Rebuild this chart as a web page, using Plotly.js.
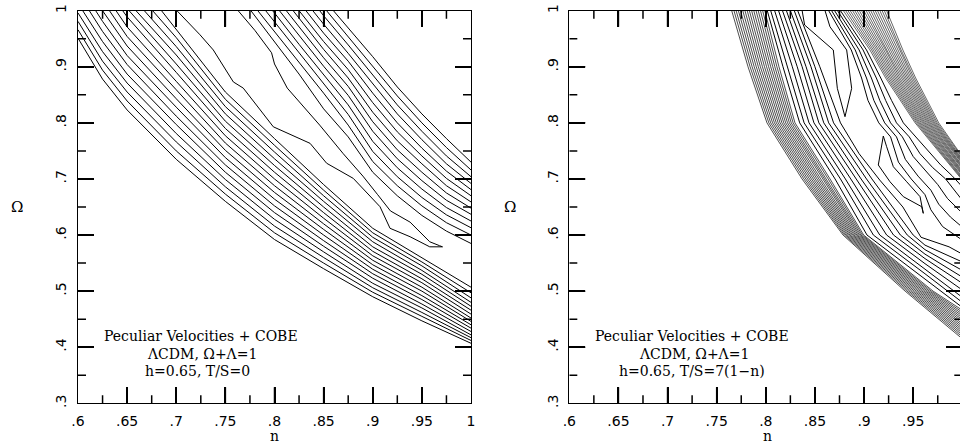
<!DOCTYPE html>
<html>
<head>
<meta charset="utf-8">
<script src="https://cdn.plot.ly/plotly-3.0.1.min.js"></script>
<style>
html,body{margin:0;padding:0;overflow:hidden;background:#fff;}
#chart{width:964px;height:443px;}
</style>
</head>
<body>
<div id="chart"></div>
<script>
// ---------------- tick labels ----------------
const xTickVals = [0.6,0.65,0.7,0.75,0.8,0.85,0.9,0.95,1.0];
const xTickText = ['.6','.65','.7','.75','.8','.85','.9','.95','1'];
const xMinorVals = [0.625,0.675,0.725,0.775,0.825,0.875,0.925,0.975];
const yTickVals = [0.3,0.4,0.5,0.6,0.7,0.8,0.9,1.0];
const yTickText = ['.3','.4','.5','.6','.7','.8','.9','1'];
const yMinorVals = [0.35,0.45,0.55,0.65,0.75,0.85,0.95];

// ---------------- LEFT PANEL (T/S = 0) ----------------
const L_A_startN  = [0.6,0.6,0.6,0.6,0.6048,0.6115,0.618,0.625,0.632,0.6387,0.6455,0.652,0.659,0.6675,0.676,0.685];
const L_A_startOm = [0.951,0.966,0.981,0.996,1,1,1,1,1,1,1,1,1,1,1,1];
const L_A_gridN   = [0.625,0.65,0.70,0.75,0.80,0.85,0.90,0.95,1.0];
const L_A_cols = [
  [0.878,0.894,0.91,0.927,0.945,0.963,0.981,null,null,null,null,null,null,null,null,null],
  [0.823,0.839,0.855,0.871,0.887,0.904,0.92,0.937,0.954,0.971,0.989,null,null,null,null,null],
  [0.735,0.75,0.766,0.781,0.797,0.812,0.828,0.843,0.859,0.874,0.89,0.905,0.921,0.936,0.952,0.967],
  [0.66,0.673,0.686,0.699,0.712,0.725,0.738,0.751,0.764,0.777,0.79,0.803,0.816,0.829,0.842,0.855],
  [0.592,0.604,0.616,0.628,0.64,0.652,0.664,0.676,0.688,0.7,0.712,0.724,0.736,0.748,0.76,0.772],
  [0.54,0.55,0.56,0.57,0.58,0.59,0.60,0.61,0.62,0.63,0.64,0.65,0.66,0.67,0.68,0.69],
  [0.49,0.498,0.506,0.514,0.523,0.531,0.539,0.547,0.555,0.563,0.571,0.579,0.588,0.596,0.604,0.612],
  [0.447,0.455,0.462,0.47,0.477,0.485,0.492,0.5,0.507,0.515,0.522,0.53,0.537,0.545,0.552,0.56],
  [0.407,0.412,0.417,0.422,0.428,0.434,0.44,0.446,0.452,0.459,0.466,0.473,0.48,0.488,0.497,0.507]
];
const L_T_n  = [0.7007,0.7242,0.7377,0.7581,0.7682,0.7988,0.8362,0.8531,0.8802,0.9074,0.9176,0.938,0.958,0.971,0.968,0.958,0.938,0.918,0.905,0.89,0.87,0.846,0.813,0.80,0.797,0.78,0.763];
const L_T_om = [1.0,0.957,0.93,0.873,0.862,0.793,0.7635,0.728,0.701,0.6505,0.612,0.597,0.579,0.579,0.581,0.588,0.623,0.643,0.672,0.705,0.745,0.796,0.862,0.905,0.925,0.965,1.0];
const L_B_startN = [0.776,0.783,0.791,0.798,0.805,0.812,0.819,0.825,0.832,0.839,0.846,0.853,0.86];
const L_B_gridN  = [0.80,0.825,0.85,0.875,0.90,0.925,0.95,0.975,1.0];
const L_B_cols = [
  [0.945,0.963,0.98,0.996,null,null,null,null,null,null,null,null,null],
  [0.887,0.908,0.925,0.94,0.956,0.971,0.987,null,null,null,null,null,null],
  [0.825,0.853,0.87,0.886,0.901,0.916,0.931,0.945,0.96,0.976,0.991,null,null],
  [0.775,0.796,0.815,0.832,0.849,0.865,0.88,0.895,0.91,0.924,0.939,0.954,0.969],
  [0.712,0.731,0.749,0.767,0.785,0.802,0.819,0.836,0.853,0.87,0.886,0.902,0.918],
  [0.67,0.688,0.704,0.72,0.736,0.752,0.768,0.784,0.8,0.816,0.832,0.848,0.864],
  [0.635,0.652,0.667,0.682,0.697,0.712,0.727,0.741,0.755,0.77,0.785,0.8,0.816],
  [0.607,0.622,0.636,0.649,0.662,0.675,0.688,0.701,0.714,0.727,0.741,0.756,0.772],
  [0.585,0.6,0.613,0.625,0.637,0.648,0.659,0.67,0.681,0.692,0.704,0.716,0.73]
];

// ---------------- RIGHT PANEL (T/S = 7(1-n)) ----------------
const R_A_levels = [1.0,0.9,0.8,0.7,0.6,0.5];
const R_A_rows = [
  [0.7653,0.7676,0.7698,0.7721,0.7743,0.7766,0.7788,0.7811,0.7833,0.7856,0.7878,0.7901,0.7923,0.7946,0.7968,0.799],
  [0.7819,0.784,0.7861,0.7882,0.7903,0.7924,0.7945,0.7966,0.7987,0.8008,0.8029,0.805,0.8071,0.8092,0.8113,0.8134],
  [0.8012,0.8031,0.805,0.8069,0.8088,0.8107,0.8126,0.8145,0.8164,0.8183,0.8202,0.8221,0.824,0.8259,0.8278,0.8297],
  [0.8369,0.8388,0.8407,0.8426,0.8445,0.8464,0.8483,0.8502,0.8521,0.854,0.8559,0.8578,0.8597,0.8616,0.8635,0.8654],
  [0.8786,0.88,0.8814,0.8828,0.8842,0.8856,0.887,0.8884,0.8898,0.8912,0.8926,0.894,0.8954,0.8968,0.8982,0.8996],
  [0.9418,0.9437,0.9456,0.9475,0.9494,0.9513,0.9532,0.9551,0.957,0.9589,0.9608,0.9627,0.9646,0.9665,0.9684,0.9703]
];
const R_A_endOm = [0.415,0.4184,0.4218,0.4252,0.4286,0.432,0.4354,0.4388,0.4422,0.4456,0.449,0.4524,0.4558,0.4592,0.4626,0.466];
const R_S_levels = [1.0,0.9,0.8,0.7,0.6];
const R_S_rows = [
  [0.8015,0.805,0.809,0.813,0.817,0.821,0.825,0.829],
  [0.8175,0.822,0.827,0.832,0.837,0.841,0.846,0.85],
  [0.8345,0.839,0.844,0.849,0.854,0.859,0.864,0.869],
  [0.8705,0.876,0.881,0.8865,0.892,0.897,0.9025,0.908],
  [0.903,0.9095,0.916,0.923,0.93,0.937,0.944,0.95]
];
const R_S_kneeN  = [0.962,0.962,0.962,0.962,0.962,0.962,0.962,0.962];
const R_S_kneeOm = [0.522,0.531,0.54,0.549,0.558,0.566,0.574,0.582];
const R_S_endOm  = [0.471,0.48,0.489,0.502,0.514,0.525,0.537,0.552];
const R_K_n  = [0.8325,0.855,0.876,0.895,0.916,0.9395,0.958,0.9865,1.0];
const R_K_om = [1.0,0.9,0.8,0.745,0.698,0.65,0.596,0.579,0.566];
const R_T1_n  = [0.837,0.8395,0.8687,0.8728,0.8806,0.8874,0.8823,0.8653,0.8603];
const R_T1_om = [1.0,0.9745,0.93,0.8616,0.811,0.8616,0.93,0.9714,1.0];
const R_T2_n  = [0.9196,0.9145,0.9264,0.94,0.9587,0.9603,0.957,0.9434,0.9298,0.923,0.9196];
const R_T2_om = [0.7766,0.7249,0.695,0.6684,0.6505,0.6387,0.6684,0.695,0.7218,0.7575,0.7766];
const R_Bs_n = [
  [0.864,0.887,0.8975,0.904,0.915,0.927,0.935,0.948,0.962,0.968,0.98,1.0],
  [0.867,0.891,0.9025,0.91,0.921,0.933,0.942,0.955,0.968,0.976,0.988,1.0],
  [0.870,0.895,0.9075,0.916,0.927,0.939,0.95,0.962,0.975,0.985,1.0],
  [0.873,0.899,0.9125,0.922,0.933,0.946,0.957,0.97,0.983,1.0],
  [0.876,0.9025,0.917,0.928,0.94,0.953,0.965,0.978,0.99,1.0]
];
const R_Bs_om = [
  [1.0,0.93,0.88,0.84,0.80,0.775,0.73,0.70,0.672,0.645,0.615,0.591],
  [1.0,0.93,0.88,0.84,0.80,0.775,0.735,0.705,0.68,0.655,0.632,0.614],
  [1.0,0.93,0.88,0.84,0.80,0.775,0.74,0.715,0.69,0.665,0.639],
  [1.0,0.93,0.88,0.84,0.80,0.775,0.745,0.72,0.70,0.662],
  [1.0,0.93,0.88,0.84,0.80,0.775,0.75,0.725,0.705,0.686]
];
const R_Bd_levels = [1.0,0.93,0.88,0.80];
const R_Bd_rows = [
  [0.879,0.8813,0.8836,0.8859,0.8883,0.8906,0.8929,0.8952,0.8975,0.8998,0.9022,0.9045,0.9068,0.9091,0.9114,0.9137,0.9161,0.9184,0.9207,0.923],
  [0.906,0.9078,0.9095,0.9113,0.9131,0.9148,0.9166,0.9183,0.9201,0.9219,0.9236,0.9254,0.9272,0.9289,0.9307,0.9324,0.9342,0.936,0.9377,0.9395],
  [0.922,0.9236,0.9252,0.9268,0.9284,0.93,0.9316,0.9332,0.9348,0.9364,0.9381,0.9397,0.9413,0.9429,0.9445,0.9461,0.9477,0.9493,0.9509,0.9525],
  [0.952,0.9533,0.9546,0.9558,0.957,0.9583,0.9596,0.9608,0.962,0.9633,0.9646,0.9658,0.967,0.9683,0.9696,0.9708,0.972,0.9733,0.9746,0.976]
];
const R_Bd_endOm = [0.698,0.7,0.702,0.704,0.707,0.709,0.711,0.713,0.715,0.718,0.72,0.722,0.724,0.727,0.729,0.731,0.733,0.735,0.738,0.74];

const panelTextL = ['Peculiar Velocities + COBE','\u039bCDM, \u03a9+\u039b=1','h=0.65, T/S=0'];
const panelTextR = ['Peculiar Velocities + COBE','\u039bCDM, \u03a9+\u039b=1','h=0.65, T/S=7(1\u2212n)'];

// ---------------- geometry ----------------
const W = 964, H = 443;
const plotTop = 10.7, plotBot = 403.3;
const plotW = 393, plotH = plotBot - plotTop;
const xRange = [0.6, 1.0], yRange = [0.3, 1.0];
const MAJOR = 16, MINOR = 8;
const TICKW = 1.5;

const traces = [];
function line(xs, ys, ax, w) {
  traces.push({type:'scatter', mode:'lines', x:xs, y:ys,
    xaxis: ax===2?'x2':'x', yaxis: ax===2?'y2':'y',
    line:{color:'#000', width:w||1}, hoverinfo:'skip', showlegend:false});
}

// inward tick marks (major and minor) as one trace per panel, drawn first
function tickTrace(ax) {
  const dx = (xRange[1] - xRange[0]) / plotW, dy = (yRange[1] - yRange[0]) / plotH;
  const xs = [], ys = [];
  const addX = (v, len) => {
    xs.push(v, v, null, v, v, null);
    ys.push(yRange[0], yRange[0] + len * dy, null, yRange[1], yRange[1] - len * dy, null);
  };
  const addY = (v, len) => {
    xs.push(xRange[0], xRange[0] + len * dx, null, xRange[1], xRange[1] - len * dx, null);
    ys.push(v, v, null, v, v, null);
  };
  xTickVals.slice(1, -1).forEach(v => addX(v, MAJOR));
  xMinorVals.forEach(v => addX(v, MINOR));
  yTickVals.slice(1, -1).forEach(v => addY(v, MAJOR));
  yMinorVals.forEach(v => addY(v, MINOR));
  line(xs, ys, ax, TICKW);
}
tickTrace(1);
tickTrace(2);

function fromColumns(startN, startOm, gridN, cols, ax) {
  for (let k = 0; k < startN.length; k++) {
    const xs = [startN[k]], ys = [startOm[k]];
    for (let j = 0; j < gridN.length; j++) {
      const v = cols[j][k];
      if (v !== null && gridN[j] > startN[k]) { xs.push(gridN[j]); ys.push(v); }
    }
    line(xs, ys, ax);
  }
}
function fromLevels(levels, rows, extraN, extraOm, endOm, ax, w) {
  for (let k = 0; k < rows[0].length; k++) {
    const xs = [], ys = [];
    for (let j = 0; j < levels.length; j++) { xs.push(rows[j][k]); ys.push(levels[j]); }
    if (extraN) { xs.push(extraN[k]); ys.push(extraOm[k]); }
    xs.push(1.0); ys.push(endOm[k]);
    line(xs, ys, ax, w);
  }
}
fromColumns(L_A_startN, L_A_startOm, L_A_gridN, L_A_cols, 1);
line(L_T_n, L_T_om, 1);
fromColumns(L_B_startN, L_B_startN.map(() => 1.0), L_B_gridN, L_B_cols, 1);

fromLevels(R_A_levels, R_A_rows, null, null, R_A_endOm, 2, 0.7);
fromLevels(R_S_levels, R_S_rows, R_S_kneeN, R_S_kneeOm, R_S_endOm, 2, 1);
line(R_K_n, R_K_om, 2);
line(R_T1_n, R_T1_om, 2);
line(R_T2_n, R_T2_om, 2);
for (let k = 0; k < R_Bs_n.length; k++) line(R_Bs_n[k], R_Bs_om[k], 2);
fromLevels(R_Bd_levels, R_Bd_rows, null, null, R_Bd_endOm, 2, 0.6);

// ---------------- layout ----------------
const yDom = [(H - plotBot) / H, (H - plotTop) / H];
const tickFont = {family:'DejaVu Sans, sans-serif', size:14, color:'#000'};
const serif = 'DejaVu Serif, serif';

function xAxis(l, anchor) {
  return {domain:[l / W, (l + plotW) / W], anchor:anchor, range:xRange,
    tickmode:'array', tickvals:xTickVals, ticktext:xTickText,
    ticks:'inside', ticklen:MAJOR, tickwidth:TICKW, tickcolor:'#000', ticklabelstandoff:5,
    showline:true, linecolor:'#000', linewidth:1.3, mirror:'ticks',
    showgrid:false, zeroline:false, tickfont:tickFont};
}
function yAxis(anchor) {
  return {domain:yDom, anchor:anchor, range:yRange,
    tickmode:'array', tickvals:yTickVals, ticktext:yTickText, tickangle:-90,
    ticks:'inside', ticklen:MAJOR, tickwidth:TICKW, tickcolor:'#000', ticklabelstandoff:5,
    showline:true, linecolor:'#000', linewidth:1.3, mirror:'ticks',
    showgrid:false, zeroline:false, tickfont:tickFont};
}

const annotations = [];
function txt(px, py, s, anchor, size) {
  annotations.push({xref:'paper', yref:'paper', x:px / W, y:1 - py / H, text:s, showarrow:false,
    xanchor:anchor, yanchor:'middle', font:{family:serif, size:size, color:'#000'}});
}
txt(17, 207, '\u03a9', 'center', 15);
txt(510, 207, '\u03a9', 'center', 15);
txt(274, 436, 'n', 'center', 14);
txt(767, 436, 'n', 'center', 14);
const lineY = [336, 353.5, 371];
const leftX = [102, 145, 143];
const rightX = [593, 637, 617];
for (let i = 0; i < 3; i++) {
  txt(leftX[i], lineY[i], panelTextL[i], 'left', 14);
  txt(rightX[i], lineY[i], panelTextR[i], 'left', 14);
}

const layout = {
  width:W, height:H, margin:{l:0, r:0, t:0, b:0},
  showlegend:false,
  xaxis:xAxis(78, 'y'), yaxis:yAxis('x'),
  xaxis2:xAxis(569.3, 'y2'), yaxis2:yAxis('x2'),
  annotations:annotations
};
Plotly.newPlot('chart', traces, layout, {displayModeBar:false});
</script>
</body>
</html>
